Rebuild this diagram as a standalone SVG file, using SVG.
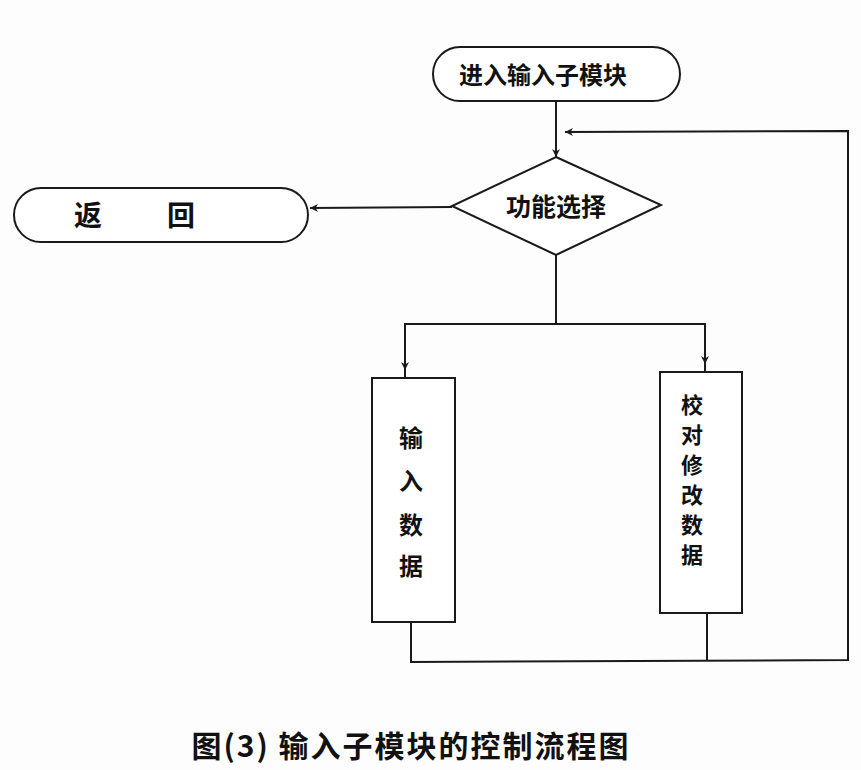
<svg xmlns="http://www.w3.org/2000/svg" width="861" height="770" viewBox="0 0 861 770">
<style>
.s{fill:none;stroke:#1a1a1a;stroke-width:2}
.n{fill:#fff;stroke:#1a1a1a;stroke-width:2}
.t{font-family:"Noto Sans CJK SC","Noto Sans",sans-serif;font-weight:bold;fill:#111;text-anchor:middle}
</style>
<defs>
<marker id="a" viewBox="0 0 10 10" refX="10" refY="5" markerWidth="8" markerHeight="8" markerUnits="userSpaceOnUse" orient="auto">
<path d="M0,0 L10,5 L0,10 L3,5 Z" fill="#1a1a1a"/>
</marker>
</defs>
<rect width="861" height="770" fill="#fdfdfd"/>
<g id="connectors">
<line class="s" x1="556" y1="101" x2="556" y2="157" marker-end="url(#a)"/>
<line class="s" x1="452" y1="207" x2="310" y2="208" marker-end="url(#a)"/>
<polyline class="s" points="556,255 556,324 405,324 405,370" marker-end="url(#a)"/>
<polyline class="s" points="556,324 705,324 705,364" marker-end="url(#a)"/>
<line class="s" x1="405" y1="362" x2="405" y2="378"/>
<line class="s" x1="705" y1="356" x2="705" y2="372"/>
<polyline class="s" points="411,622 411,662 848,660 848,131 565,132" marker-end="url(#a)"/>
<line class="s" x1="707" y1="613" x2="707" y2="661"/>
</g>
<g id="start">
<rect class="n" x="433" y="47" width="247" height="54" rx="27"/>
<text class="t" x="543" y="84" font-size="24">进入输入子模块</text>
</g>
<g id="select">
<polygon class="n" points="556,157 661,205 556,255 452,206"/>
<text class="t" x="556" y="216" font-size="25">功能选择</text>
</g>
<g id="return">
<rect class="n" x="14" y="188" width="294" height="54" rx="27"/>
<text class="t" x="88" y="226" font-size="28">返</text>
<text class="t" x="181" y="226" font-size="28">回</text>
</g>
<g id="input">
<rect class="n" x="372" y="378" width="83" height="244"/>
<text class="t" x="411" y="447" font-size="24">输</text>
<text class="t" x="411" y="490" font-size="24">入</text>
<text class="t" x="411" y="534" font-size="24">数</text>
<text class="t" x="411" y="575" font-size="24">据</text>
</g>
<g id="verify">
<rect class="n" x="660" y="372" width="82" height="241"/>
<text class="t" x="692" y="413" font-size="22">校</text>
<text class="t" x="692" y="443" font-size="22">对</text>
<text class="t" x="692" y="473" font-size="22">修</text>
<text class="t" x="692" y="503" font-size="22">改</text>
<text class="t" x="692" y="533" font-size="22">数</text>
<text class="t" x="692" y="563" font-size="22">据</text>
</g>
<g id="caption">
<text class="t" x="411" y="757" font-size="30" letter-spacing="2">图(3) 输入子模块的控制流程图</text>
</g>
</svg>
